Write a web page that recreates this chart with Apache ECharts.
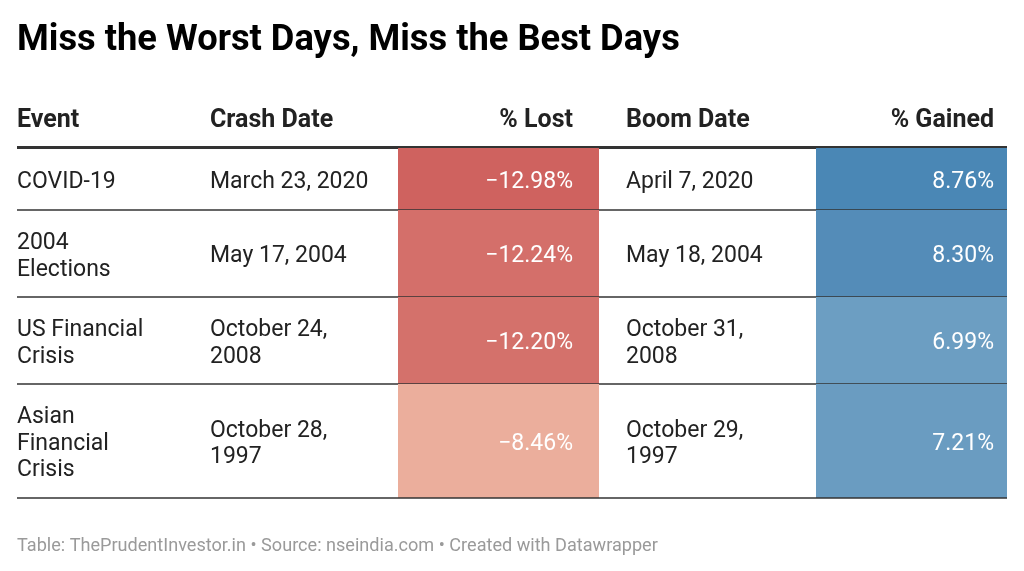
<!DOCTYPE html>
<html>
<head>
<meta charset="utf-8">
<script src="https://cdn.jsdelivr.net/npm/echarts@6/dist/echarts.min.js"></script>
<style>
  html, body { margin: 0; padding: 0; background: #fff; }
  #main { width: 1024px; height: 571px; }
</style>
</head>
<body>
<div id="main"></div>
<script>
// table data
var headers = ['Event', 'Crash Date', '% Lost', 'Boom Date', '% Gained'];
var events = ['COVID-19', '2004\nElections', 'US Financial\nCrisis', 'Asian\nFinancial\nCrisis'];
var crashDates = ['March 23, 2020', 'May 17, 2004', 'October 24,\n2008', 'October 28,\n1997'];
var lost = [-12.98, -12.24, -12.20, -8.46];
var boomDates = ['April 7, 2020', 'May 18, 2004', 'October 31,\n2008', 'October 29,\n1997'];
var gained = [8.76, 8.30, 6.99, 7.21];

// layout (pixels)
var colLeft = [17, 210, 398, 626, 816];
var lostCell = [398, 599];
var gainCell = [816, 1007];
var tableX = [17, 1007];
var rowEdges = [148, 210, 297, 384, 498];
var headerY = 121;

var lostColors = ['#cf625f', '#d46f6a', '#d4716b', '#ebae9c'];
var gainColors = ['#4a87b5', '#548cb8', '#6c9ec2', '#6a9cc1'];

var FONT = 'Roboto, "Noto Sans", sans-serif';
var TXT = '#222222';

function fmt(v) {
  var s = Math.abs(v).toFixed(2) + '%';
  return v < 0 ? '\u2212' + s : s;
}

var chart = echarts.init(document.getElementById('main'), null, { renderer: 'canvas' });

function renderRow(params, api) {
  var i = api.value(0);
  var top = api.coord([0, rowEdges[i]])[1];
  var bot = api.coord([0, rowEdges[i + 1]])[1];
  var mid = (top + bot) / 2 + 3;
  var X = function (x) { return api.coord([x, 0])[0]; };
  var base = { fontFamily: FONT, fontSize: 23, lineHeight: 26.5, verticalAlign: 'middle' };
  function txt(str, x, align, color) {
    return {
      type: 'text',
      style: Object.assign({}, base, { text: str, x: X(x), y: mid, align: align, fill: color })
    };
  }
  return {
    type: 'group',
    children: [
      { type: 'rect', shape: { x: X(lostCell[0]), y: top, width: X(lostCell[1]) - X(lostCell[0]), height: bot - top }, style: { fill: lostColors[i] } },
      { type: 'rect', shape: { x: X(gainCell[0]), y: top, width: X(gainCell[1]) - X(gainCell[0]), height: bot - top }, style: { fill: gainColors[i] } },
      txt(events[i], colLeft[0], 'left', TXT),
      txt(crashDates[i], colLeft[1], 'left', TXT),
      txt(fmt(lost[i]), lostCell[1] - 26, 'right', '#ffffff'),
      txt(boomDates[i], colLeft[3], 'left', TXT),
      txt(fmt(gained[i]), gainCell[1] - 13, 'right', '#ffffff'),
      { type: 'line', shape: { x1: X(tableX[0]), y1: bot, x2: X(tableX[1]), y2: bot }, style: { stroke: '#333333', lineWidth: 1.5 } }
    ]
  };
}

var headerAnchors = [
  [colLeft[0], 'left'], [colLeft[1], 'left'], [lostCell[1] - 26, 'right'],
  [colLeft[3], 'left'], [gainCell[1] - 13, 'right']
];

var headerGraphics = headers.map(function (h, k) {
  return {
    type: 'text',
    x: headerAnchors[k][0], y: headerY,
    style: {
      text: h, fontFamily: FONT, fontSize: 25, fontWeight: 'bold', fill: TXT,
      textAlign: headerAnchors[k][1], textVerticalAlign: 'middle'
    }
  };
});
headerGraphics.push({
  type: 'rect',
  shape: { x: tableX[0], y: 146, width: tableX[1] - tableX[0], height: 3 },
  style: { fill: '#333333' }
});

var option = {
  animation: false,
  title: [
    {
      text: 'Miss the Worst Days, Miss the Best Days',
      left: 17, top: 23, padding: 0,
      textStyle: { fontFamily: FONT, fontSize: 36.3, fontWeight: 'bold', color: '#000000' }
    },
    {
      text: 'Table: ThePrudentInvestor.in \u2022 Source: nseindia.com \u2022 Created with Datawrapper',
      left: 17, top: 537, padding: 0,
      textStyle: { fontFamily: FONT, fontSize: 18.1, fontWeight: 'normal', color: '#9a9a9a' }
    }
  ],
  grid: { left: 0, right: 0, top: 0, bottom: 0 },
  xAxis: { type: 'value', min: 0, max: 1024, show: false },
  yAxis: { type: 'value', min: 0, max: 571, inverse: true, show: false },
  graphic: headerGraphics,
  series: [{
    type: 'custom',
    renderItem: renderRow,
    data: events.map(function (e, i) { return [i]; }),
    encode: { x: -1, y: -1 },
    silent: true
  }]
};

chart.setOption(option);
</script>
</body>
</html>
